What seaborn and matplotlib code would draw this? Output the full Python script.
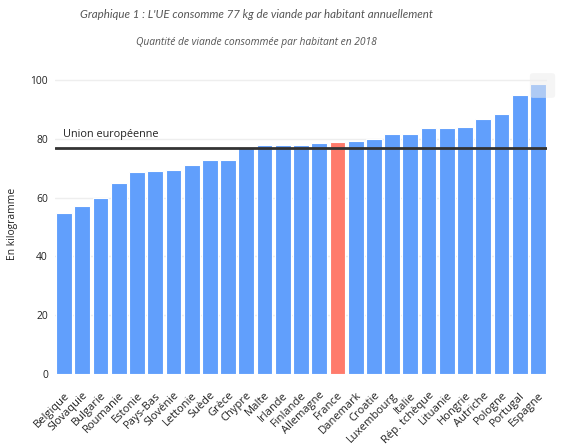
import matplotlib
matplotlib.use("Agg")
import matplotlib.pyplot as plt
import seaborn as sns
import pandas as pd
from matplotlib.patches import FancyBboxPatch

countries = ["Belgique", "Slovaquie", "Bulgarie", "Roumanie", "Estonie", "Pays-Bas",
             "Slovénie", "Lettonie", "Suède", "Grèce", "Chypre", "Malte", "Irlande",
             "Finlande", "Allemagne", "France", "Danemark", "Croatie", "Luxembourg",
             "Italie", "Rép. tchèque", "Lituanie", "Hongrie", "Autriche", "Pologne",
             "Portugal", "Espagne"]
values = [54.6, 57.2, 60.0, 64.8, 68.8, 68.9, 69.4, 71.0, 72.9, 72.9, 77.1, 77.8, 77.8,
          78.0, 78.6, 78.8, 79.3, 79.8, 81.6, 81.6, 83.6, 83.6, 83.9, 86.6, 88.4,
          94.7, 98.6]
eu_average = 77.0
eu_label = "Union européenne"
highlight = "France"
title = "Graphique 1 : L'UE consomme 77 kg de viande par habitant annuellement"
subtitle = "Quantité de viande consommée par habitant en 2018"
y_label = "En kilogramme"
y_ticks = [0, 20, 40, 60, 80, 100]

df = pd.DataFrame({"pays": countries, "kg": values})
df["grp"] = ["hl" if c == highlight else "base" for c in countries]

sns.set_theme(style="white")
plt.rcParams["font.family"] = ["Open Sans", "DejaVu Sans"]

fig = plt.figure(figsize=(5.64, 4.45), dpi=100)
ax = fig.add_axes([55 / 564, (445 - 374) / 445, (547 - 55) / 564, (374 - 74) / 445])

sns.barplot(data=df, x="pays", y="kg", hue="grp",
            palette={"base": "#619ffc", "hl": "#ff7b6c"}, saturation=1,
            dodge=False, legend=False, width=0.86, ax=ax,
            edgecolor="white", linewidth=0.8, zorder=2)

ax.set_xlim(-0.5, len(countries) - 0.5)
ax.set_ylim(0, 102)
ax.set_yticks(y_ticks)
ax.set_yticklabels([str(t) for t in y_ticks], fontsize=7.4, color="#222222")
for t in y_ticks[1:]:
    ax.axhline(t, color="#eeeeee", linewidth=1, zorder=0)
ax.tick_params(axis="y", length=0, pad=5)
ax.set_xticks(range(len(countries)))
ax.set_xticklabels(countries, rotation=45, ha="right", rotation_mode="anchor",
                   fontsize=8.0, color="#222222")
ax.tick_params(axis="x", length=0, pad=11.5)
for s in ax.spines.values():
    s.set_visible(False)
ax.set_xlabel("")
ax.set_ylabel(y_label, fontsize=7.4, color="#222222", labelpad=9)

ax.axhline(eu_average, color="#333333", linewidth=2, zorder=3)
ax.text(-0.08, eu_average + 2.5, eu_label, fontsize=7.8, color="#222222",
        ha="left", va="bottom", zorder=4)

fig.text(256 / 564, 1 - 15 / 445, title, ha="center", va="center", fontsize=8.3,
         family=["Lato", "DejaVu Sans"], style="italic", color="#555555")
fig.text(256 / 564, 1 - 42 / 445, subtitle, ha="center", va="center", fontsize=7.4,
         style="italic", color="#555555")

box = FancyBboxPatch((531 / 564, 1 - 97 / 445), 23 / 564, 23 / 445,
                     boxstyle="round,pad=0.002,rounding_size=0.006",
                     transform=fig.transFigure, facecolor="#eeeeee", edgecolor="none",
                     alpha=0.55, zorder=10)
fig.patches.append(box)

fig.savefig("out.png", dpi=100)
